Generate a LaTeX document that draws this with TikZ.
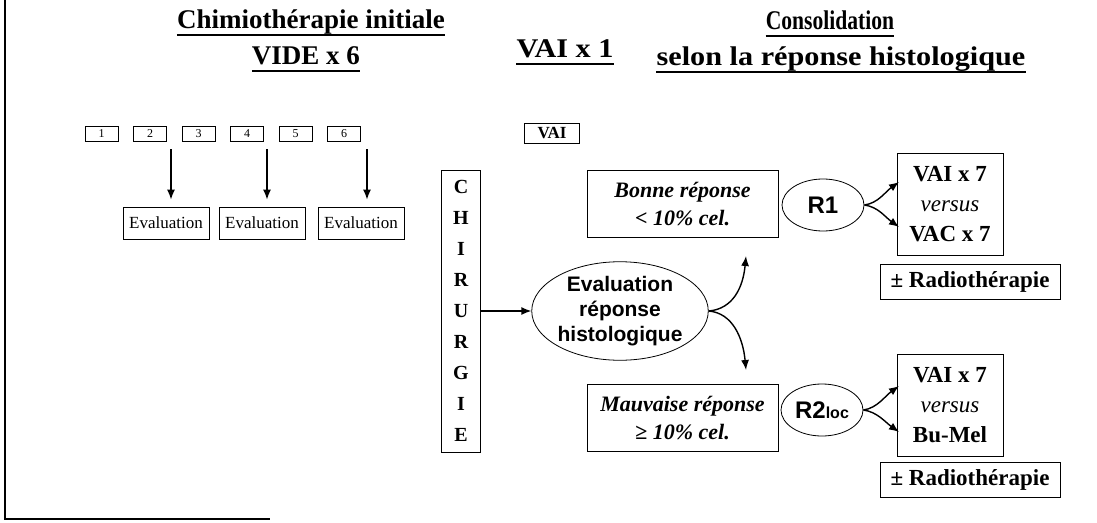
\documentclass[tikz,border=0pt]{standalone}
\usepackage{fontspec}
\setmainfont{Liberation Serif}
\setsansfont{Liberation Sans}
\usetikzlibrary{positioning,shapes.geometric,arrows.meta}

\tikzset{
  titre/.style={font=\bfseries\fontsize{27}{30}\selectfont, inner sep=0pt, anchor=base},
  souligne/.style={line width=2.8pt},
  cure/.style={draw, thick, minimum width=33pt, minimum height=15pt, inner sep=0pt, font=\fontsize{12}{12}\selectfont},
  evalbox/.style={draw, thick, minimum width=86pt, minimum height=32pt, inner sep=3pt, font=\fontsize{17}{18}\selectfont},
  reponse/.style={draw, thick, minimum width=191pt, minimum height=67pt, align=center, font=\bfseries\itshape\fontsize{22}{28}\selectfont},
  bras/.style={draw, ellipse, thick, font=\sffamily\bfseries\fontsize{24}{24}\selectfont, minimum width=82pt, minimum height=52pt, inner sep=0pt},
  traitement/.style={draw, thick, minimum width=106pt, minimum height=102pt, align=center, font=\bfseries\fontsize{23}{30}\selectfont},
  radio/.style={draw, thick, minimum width=180pt, minimum height=35pt, font=\bfseries\fontsize{23}{24}\selectfont},
  fleche/.style={-{Latex[length=10pt,width=8pt]}, line width=1.4pt},
}

\begin{document}
\begin{tikzpicture}[x=1pt,y=-1pt]
\useasboundingbox (0,0) rectangle (1097,522);
\draw[line width=1.5pt] (5,0) -- (5,519) -- (270,519);

% titres
\node[titre] (t1) at (311,28) {Chimiothérapie initiale};
\node[titre] (t2) at (306,64) {VIDE x 6};
\node[titre] (t3) at (565,57) {\addfontfeatures{FakeStretch=1.12}VAI x 1};
\node[titre] (t4) at (830,29) {\addfontfeatures{FakeStretch=0.8}Consolidation};
\node[titre] (t5) at (841,65) {\addfontfeatures{FakeStretch=1.12}selon la réponse histologique};
\foreach \t in {t1,t2,t3,t4,t5}
  \draw[souligne] ([yshift=-7pt]\t.base west) -- ([yshift=-7pt]\t.base east);

% cures VIDE
\foreach \i in {1,...,6}
  \node[cure] (c\i) at ({101.5+48.5*(\i-1)},134) {\i};
\node[evalbox] (e1) at (166,223) {Evaluation};
\node[evalbox] (e2) at (262,223) {Evaluation};
\node[evalbox] (e3) at (361,223) {Evaluation};
\coordinate (d1) at (171,149);
\coordinate (d2) at (267,149);
\coordinate (d3) at (367,149);
\foreach \k in {1,2,3}
  \draw[fleche] (d\k) -- ([yshift=7pt]d\k |- e\k.north);

\node[draw, thick, minimum width=55pt, minimum height=20pt, inner sep=0pt, font=\bfseries\fontsize{17}{18}\selectfont] (vai) at (552,133) {VAI};

% chirurgie
\node[draw, thick, minimum width=39pt, minimum height=282pt, inner sep=0pt, align=center, font=\bfseries\fontsize{20}{31}\selectfont] (chir) at (461,311) {C\\H\\I\\R\\U\\R\\G\\I\\E};
\node[draw, ellipse, thick, minimum width=170pt, minimum height=97pt, inner sep=0pt, align=center, font=\sffamily\bfseries\fontsize{21}{25}\selectfont] (evr) at (620,311) {Evaluation\\réponse\\histologique};
\draw[fleche] (chir.east) -- (evr.west);
\coordinate (hb) at (746,256);
\coordinate (bb) at (746,370);
\draw[fleche] (evr.east) .. controls +(24,-2) and +(-3,32) .. (hb);
\draw[fleche] (evr.east) .. controls +(24,2) and +(-3,-32) .. (bb);

% bonne reponse
\node[reponse] (bon) at (682.5,204) {Bonne réponse\\< 10\% cel.};
\node[bras] (r1) at (823,205) {R1};
\node[traitement] (t7a) at (950,204) {VAI x 7\\{\mdseries\itshape versus}\\VAC x 7};
\node[radio] (rad1) at (970,282) {± Radiothérapie};
\coordinate (r1h) at (899,182);
\coordinate (r1b) at (899,227);
\draw[fleche] (r1.east) .. controls +(14,-2) and +(-14,10) .. (r1h);
\draw[fleche] (r1.east) .. controls +(14,2) and +(-14,-10) .. (r1b);

% mauvaise reponse
\node[reponse] (mau) at (682.5,418) {Mauvaise réponse\\≥ 10\% cel.};
\node[bras] (r2) at (822,410) {R2{\fontsize{16}{16}\selectfont loc}};
\node[traitement] (t7b) at (950,405) {VAI x 7\\{\mdseries\itshape versus}\\Bu-Mel};
\node[radio] (rad2) at (970,480) {± Radiothérapie};
\coordinate (r2h) at (899,386);
\coordinate (r2b) at (899,432);
\draw[fleche] (r2.east) .. controls +(14,-2) and +(-14,10) .. (r2h);
\draw[fleche] (r2.east) .. controls +(14,2) and +(-14,-10) .. (r2b);
\end{tikzpicture}
\end{document}
